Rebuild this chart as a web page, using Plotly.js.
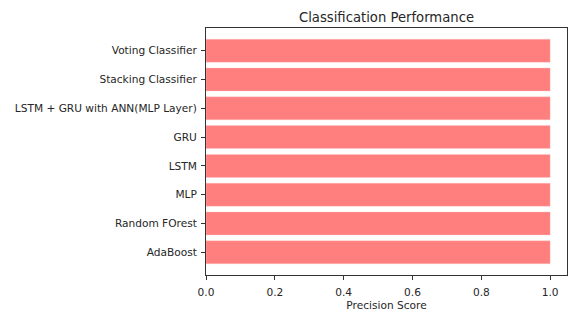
<!DOCTYPE html>
<html><head><meta charset="utf-8">
<script src="https://cdn.plot.ly/plotly-3.0.1.min.js"></script>
<style>html,body{margin:0;padding:0;background:#fff}#chart{width:568px;height:311px}</style>
</head><body><div id="chart"></div>
<script>
const models = ["AdaBoost","Random FOrest","MLP","LSTM","GRU","LSTM + GRU with ANN(MLP Layer)","Stacking Classifier","Voting Classifier"];
const precision = [1.0,1.0,1.0,1.0,1.0,1.0,1.0,1.0];
const xTicks = [0,0.2,0.4,0.6,0.8,1.0];
const xTickText = ["0.0","0.2","0.4","0.6","0.8","1.0"];

const font = {family:"DejaVu Sans, sans-serif", size:10.6, color:"#262626"};
Plotly.newPlot("chart",[{
  type:"bar", orientation:"h", x:precision, y:models.map((_,i)=>i),
  width:0.8,
  marker:{color:"rgba(255,0,0,0.5)", line:{color:"rgba(255,200,200,0.6)", width:0.5}},
  hoverinfo:"x+text", text:models, textposition:"none"
}],{
  width:568,height:311,
  margin:{l:206,r:1,t:28,b:36},
  paper_bgcolor:"#fff",plot_bgcolor:"#fff",
  showlegend:false,
  title:{text:"Classification Performance",font:{family:"DejaVu Sans, sans-serif",size:13.2,color:"#262626"},xref:"paper",x:0.5,xanchor:"center",yref:"container",y:1-17/311,yanchor:"middle"},
  xaxis:{range:[0,1.049],tickvals:xTicks,ticktext:xTickText,ticks:"outside",ticklen:4,tickcolor:"#333",ticklabelstandoff:3,
    showgrid:false,zeroline:false,showline:true,linecolor:"#333",linewidth:1,mirror:true,
    tickfont:font,title:{text:"Precision Score",font:font,standoff:5}},
  yaxis:{range:[-0.79,7.79],tickvals:models.map((_,i)=>i),ticktext:models,ticks:"outside",ticklen:4,tickcolor:"#333",ticklabelstandoff:2,
    showgrid:false,zeroline:false,showline:true,linecolor:"#333",linewidth:1,mirror:true,
    tickfont:font}
},{displayModeBar:false,staticPlot:true});
</script></body></html>
